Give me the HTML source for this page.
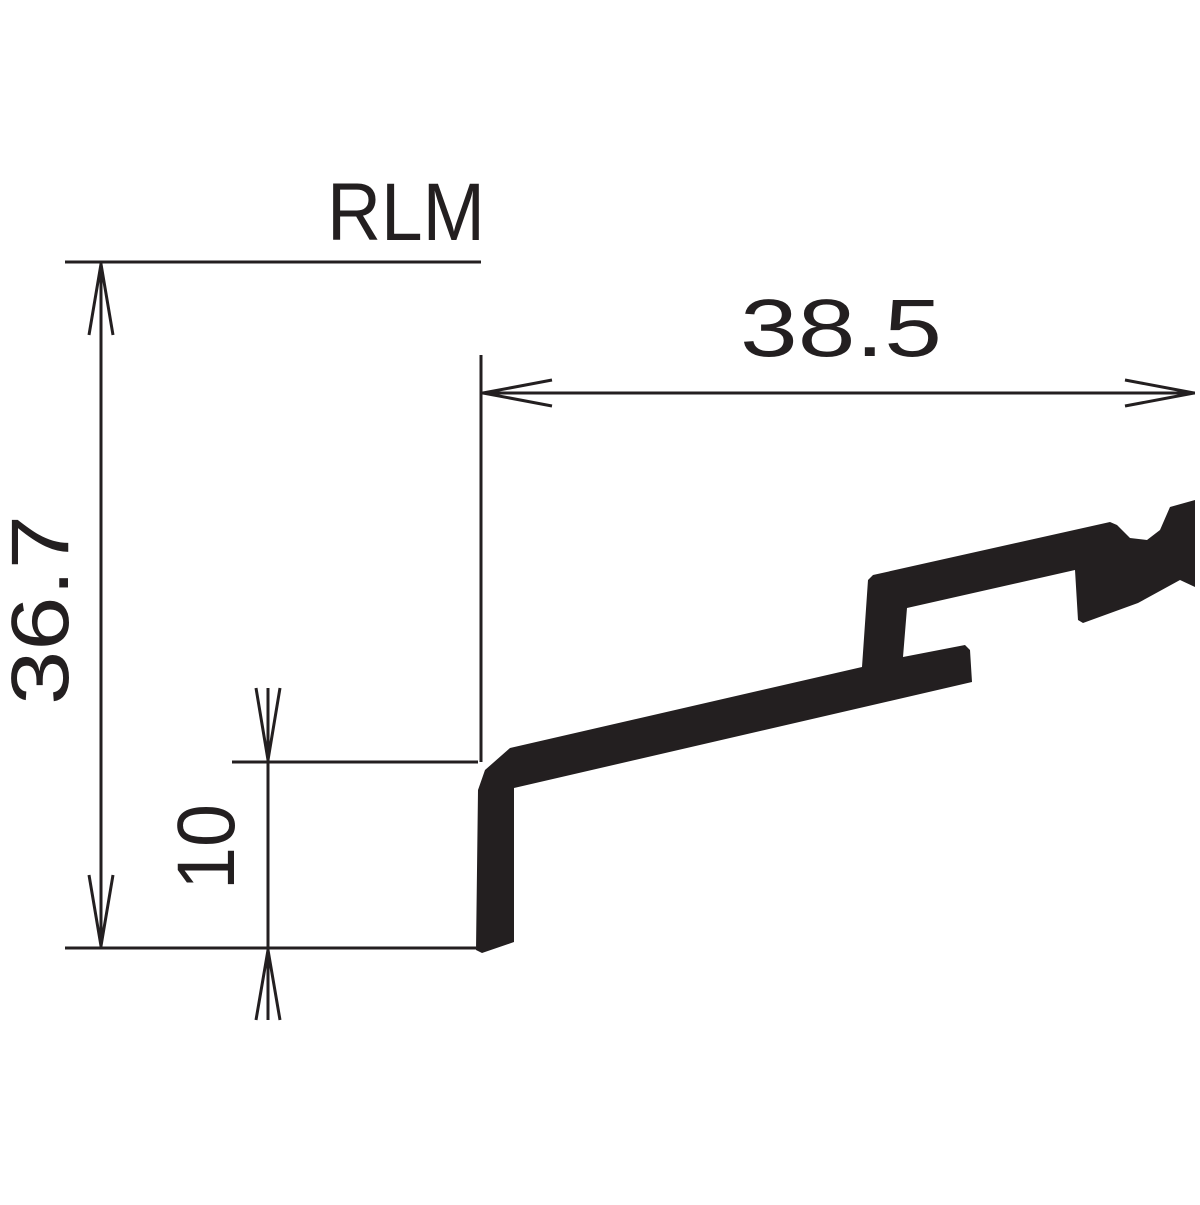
<!DOCTYPE html>
<html><head><style>html,body{margin:0;padding:0;background:#fff}</style></head>
<body>
<svg width="1200" height="1200" viewBox="0 0 1200 1200" xmlns="http://www.w3.org/2000/svg">
<rect width="1200" height="1200" fill="#fff"/>
<g stroke="#231f20" stroke-width="3" fill="none">
<line x1="65" y1="262" x2="481" y2="262"/>
<line x1="65" y1="948" x2="476" y2="948"/>
<line x1="232" y1="762" x2="478" y2="762"/>
<line x1="101" y1="262" x2="101" y2="948"/>
<polyline points="89,335 101,264 113,335"/>
<polyline points="89,875 101,946 113,875"/>
<line x1="481" y1="355" x2="481" y2="762"/>
<line x1="481" y1="393" x2="1195" y2="393"/>
<polyline points="552,380 483,393 552,406"/>
<polyline points="1125,380 1194,393 1125,406"/>
<line x1="268" y1="688" x2="268" y2="1020"/>
<polyline points="256,688 268,760 280,688"/>
<polyline points="256,1020 268,950 280,1020"/>
</g>
<polygon fill="#231f20" points="476,950 478,790 485,770 510,748 862,667 868,580 873,575 1110,522 1117,525 1130,538 1147,540 1160,530 1170,507 1195,500 1195,587 1180,580 1138,603 1083,623 1078,620 1075,570 907,608 903,657 965,645 970,650 972,682 514,788 514,942 482,953"/>
<g fill="#231f20" font-family="Liberation Sans, sans-serif" font-size="82">
<text x="327" y="240" textLength="158" lengthAdjust="spacingAndGlyphs">RLM</text>
<text x="740" y="356" textLength="202" lengthAdjust="spacingAndGlyphs">38.5</text>
<text transform="translate(68,705) rotate(-90)" x="0" y="0" textLength="190" lengthAdjust="spacingAndGlyphs">36.7</text>
<text transform="translate(234,890) rotate(-90)" x="0" y="0" textLength="86" lengthAdjust="spacingAndGlyphs">10</text>
</g>
</svg>
</body></html>
